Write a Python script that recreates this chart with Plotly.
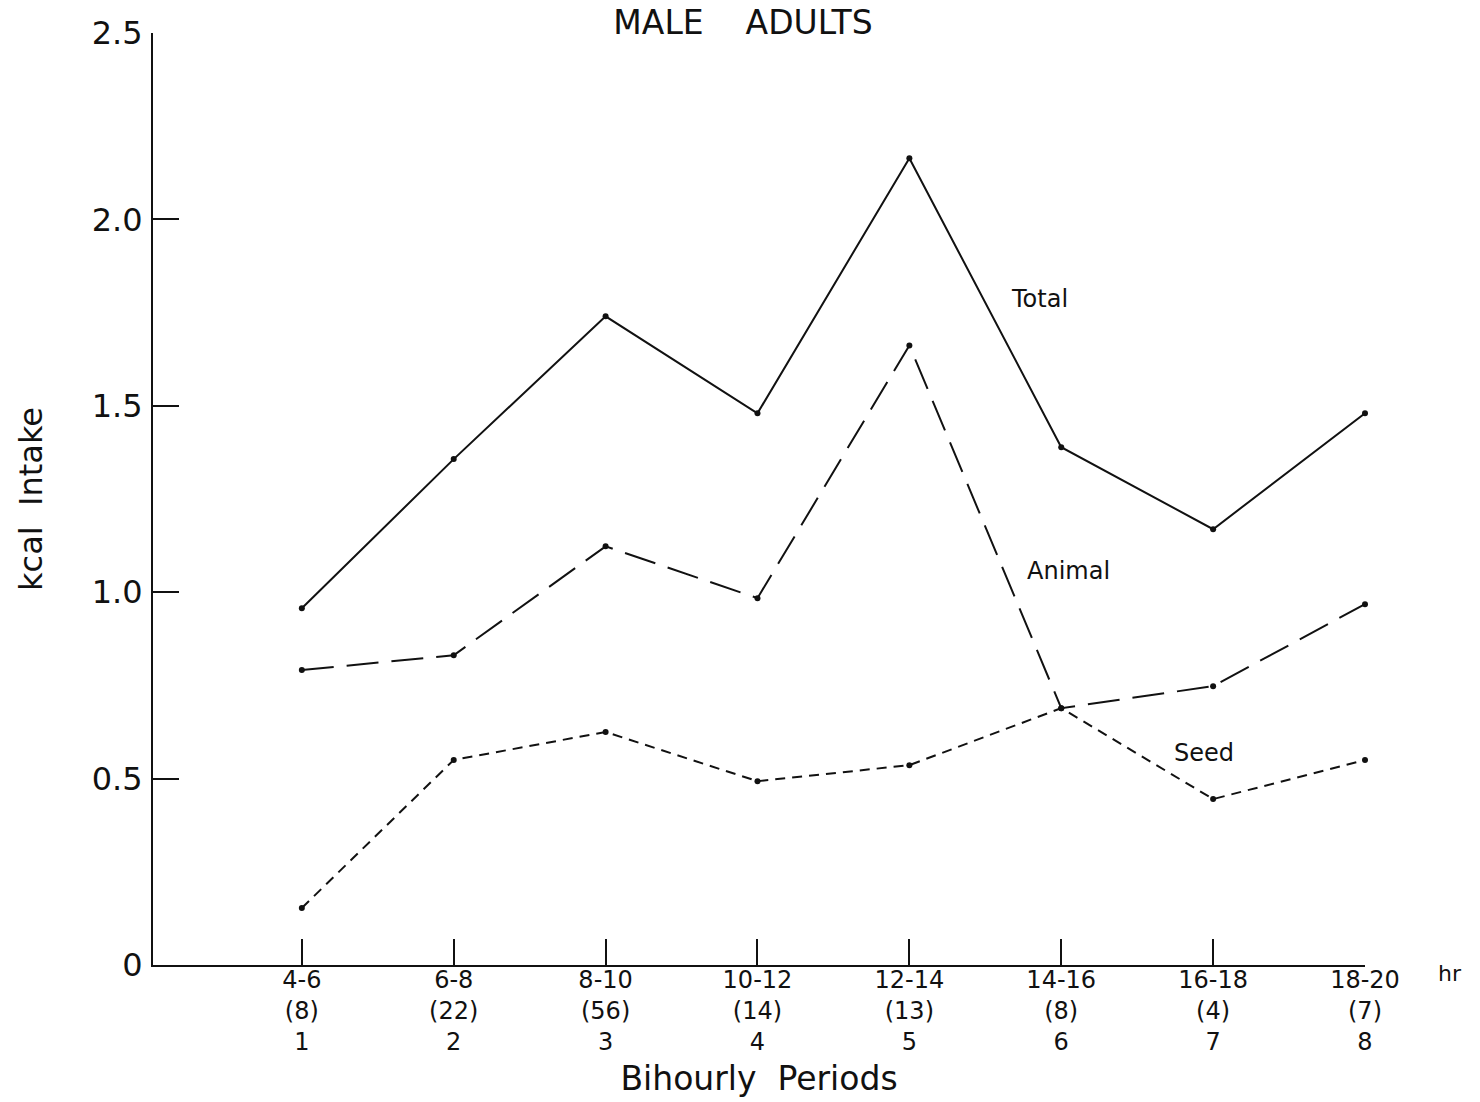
import plotly.graph_objects as go

# Bihourly feeding periods
periods = [1, 2, 3, 4, 5, 6, 7, 8]
hour_ranges = ["4-6", "6-8", "8-10", "10-12", "12-14", "14-16", "16-18", "18-20"]
sample_sizes = [8, 22, 56, 14, 13, 8, 4, 7]

# kcal intake per period
total = [0.957, 1.357, 1.740, 1.480, 2.164, 1.389, 1.169, 1.480]
animal = [0.791, 0.831, 1.123, 0.984, 1.662, 0.689, 0.748, 0.968]
seed = [0.153, 0.550, 0.625, 0.493, 0.536, 0.689, 0.445, 0.550]

y_ticks = [0, 0.5, 1.0, 1.5, 2.0, 2.5]
y_tick_text = ["0", "0.5", "1.0", "1.5", "2.0", "2.5"]

FONT = "DejaVu Sans"
INK = "#111111"

tick_text = [f"{h}<br>({n})<br>{p}" for h, n, p in zip(hour_ranges, sample_sizes, periods)]

fig = go.Figure()

series = [
    ("Total", total, "solid"),
    ("Animal", animal, "32px,13px"),
    ("Seed", seed, "10px,7px"),
]
for name, vals, dash in series:
    fig.add_trace(go.Scatter(
        x=periods, y=vals, name=name, mode="lines+markers",
        line=dict(color=INK, width=2, dash=dash),
        marker=dict(color=INK, size=6),
        cliponaxis=False, showlegend=False,
    ))

# Inline series labels
labels = [("Total", 5.86, 1.786), ("Animal", 6.05, 1.056), ("Seed", 6.94, 0.568)]
for text, lx, ly in labels:
    fig.add_annotation(x=lx, y=ly, text=text, showarrow=False,
                       font=dict(family=FONT, size=24, color=INK),
                       xanchor="center", yanchor="middle")

fig.add_annotation(x=1.0, y=0, xref="paper", yref="paper", text="hr",
                   showarrow=False, xanchor="left", yanchor="top",
                   xshift=71, yshift=6,
                   font=dict(family=FONT, size=22, color=INK))

fig.update_layout(
    width=1480, height=1102,
    margin=dict(l=153, r=115, t=33, b=137, autoexpand=False),
    paper_bgcolor="white", plot_bgcolor="white",
    font=dict(family=FONT, color=INK),
    title=dict(text="MALE\u00a0\u00a0\u00a0\u00a0ADULTS", x=743 / 1480, xanchor="center",
               y=1 - 22 / 1102, yanchor="middle",
               font=dict(family=FONT, size=33, color=INK)),
)

fig.update_xaxes(
    range=[0.02, 8], tickmode="array", tickvals=periods, ticktext=tick_text,
    ticks="inside", ticklen=26, tickwidth=2, tickcolor=INK,
    showline=True, linewidth=2, linecolor=INK, showgrid=False, zeroline=False,
    tickfont=dict(family=FONT, size=24, color=INK), automargin=False,
    ticklabelstandoff=-8,
    title=dict(text="Bihourly\u00a0\u00a0Periods", standoff=12,
               font=dict(family=FONT, size=33, color=INK)),
)
fig.update_yaxes(
    range=[0, 2.5], tickmode="array", tickvals=y_ticks, ticktext=y_tick_text,
    ticks="inside", ticklen=26, tickwidth=2, tickcolor=INK,
    showline=True, linewidth=2, linecolor=INK, showgrid=False, zeroline=False,
    tickfont=dict(family=FONT, size=32, color=INK), ticklabelstandoff=2,
    automargin=False,
    title=dict(text="kcal\u00a0\u00a0Intake", standoff=40,
               font=dict(family=FONT, size=32, color=INK)),
)

fig.write_html("out.html")
